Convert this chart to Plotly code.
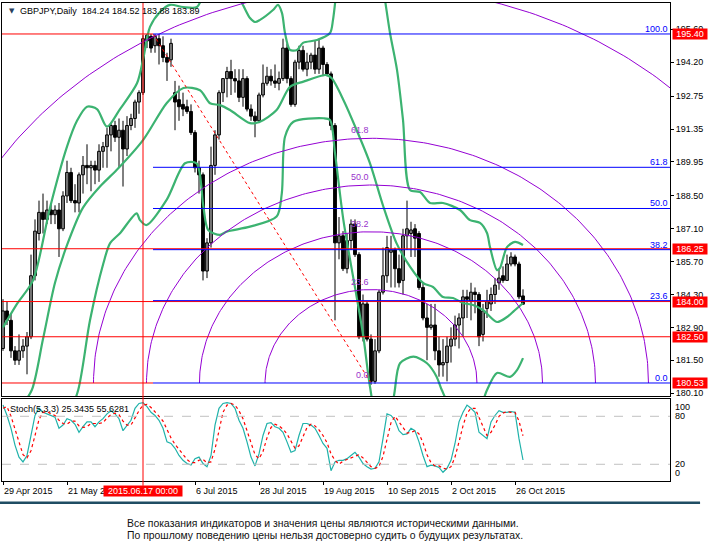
import numpy as np
import pandas as pd
import plotly.graph_objects as go
from plotly.subplots import make_subplots

# daily bars, bar 0 = 29 Apr 2015
bar_dates = pd.bdate_range("2015-04-29", periods=131)
bar_open = [182.0, 183.6, 183.2, 181.9, 181.5, 181.9, 182.1, 182.5, 185.1, 186.9,
            187.8, 187.5, 187.9, 187.7, 187.9, 187.1, 188.5, 189.5, 188.3, 188.2,
            189.4, 189.8, 189.7, 189.8, 189.6, 190.4, 190.6, 191.1, 191.5, 191.0,
            191.3, 190.5, 191.5, 191.8, 192.5, 192.9, 195.1, 195.3, 194.9, 195.2,
            194.9, 194.4, 194.3, 192.9, 192.6, 192.4, 192.3, 192.1, 191.2, 189.7,
            189.4, 185.3, 186.5, 189.8, 191.1, 192.9, 193.5, 193.8, 193.5, 193.4,
            192.7, 193.5, 192.2, 191.9, 191.7, 192.8, 193.3, 193.6, 193.4, 193.3,
            193.5, 194.8, 193.5, 192.4, 194.2, 194.7, 193.9, 194.2, 194.5, 193.9,
            194.8, 194.1, 193.7, 191.5, 186.5, 186.8, 185.4, 186.6, 187.3, 186.0,
            182.5, 183.9, 182.4, 180.6, 181.9, 184.4, 185.1, 186.1, 186.2, 185.4,
            184.9, 186.8, 186.9, 187.1, 186.9, 184.6, 183.3, 182.9, 183.0, 181.9,
            181.3, 181.4, 182.1, 182.4, 183.0, 183.3, 184.2, 184.0, 184.4, 184.3,
            182.6, 183.7, 183.9, 184.3, 184.8, 185.1, 184.9, 185.6, 185.9, 185.6,
            184.24]
bar_high = [184.1, 184.0, 183.5, 182.1, 182.6, 182.4, 182.7, 186.0, 187.5, 188.3,
            188.6, 188.3, 188.2, 188.1, 188.2, 188.7, 190.0, 189.7, 189.0, 189.5,
            190.2, 190.7, 190.0, 190.0, 190.7, 190.8, 191.4, 191.6, 191.7, 191.8,
            191.7, 191.9, 192.0, 192.6, 193.0, 195.35, 195.4, 195.4, 195.4, 195.4,
            195.3, 194.6, 195.2, 193.4, 193.2, 192.9, 192.6, 192.4, 191.3, 190.0,
            189.5, 186.7, 190.6, 191.3, 193.0, 193.5, 194.0, 194.3, 193.9, 193.9,
            193.9, 193.6, 192.4, 192.1, 192.9, 194.1, 194.0, 193.9, 194.1, 193.8,
            195.2, 195.0, 193.6, 194.3, 194.9, 194.9, 194.6, 194.6, 195.1, 195.2,
            194.9, 194.2, 193.8, 191.6, 187.6, 187.0, 186.9, 187.5, 187.5, 186.1,
            184.3, 184.0, 182.6, 182.4, 184.5, 186.3, 186.8, 186.8, 186.3, 186.0,
            187.1, 188.3, 187.4, 187.3, 187.0, 184.8, 183.9, 183.9, 183.9, 182.5,
            182.4, 182.5, 182.9, 183.4, 183.5, 184.5, 184.5, 184.8, 184.6, 184.4,
            183.9, 184.5, 184.6, 185.0, 185.4, 185.5, 186.0, 186.1, 186.0, 185.7,
            184.52]
bar_low = [181.9, 183.0, 181.6, 181.3, 181.3, 181.6, 180.9, 182.4, 184.9, 186.6,
           186.9, 187.3, 187.3, 187.3, 185.9, 187.0, 188.2, 188.2, 187.8, 187.8,
           188.6, 189.0, 188.7, 189.0, 189.1, 189.7, 189.7, 190.4, 190.8, 189.7,
           188.9, 190.2, 191.3, 191.4, 192.0, 192.8, 194.8, 194.6, 194.6, 194.1,
           194.2, 193.4, 194.0, 191.3, 191.7, 191.9, 192.0, 191.1, 189.5, 188.6,
           184.9, 185.0, 186.3, 189.4, 190.9, 192.5, 192.7, 192.8, 192.9, 192.5,
           192.3, 192.1, 191.7, 191.0, 191.6, 192.7, 193.2, 193.2, 193.1, 193.0,
           193.4, 193.3, 192.3, 192.3, 193.9, 193.8, 193.6, 193.9, 193.7, 193.7,
           193.6, 193.6, 191.3, 183.2, 185.8, 185.3, 185.2, 186.2, 185.9, 182.4,
           182.3, 182.3, 180.45, 180.5, 181.8, 184.3, 184.8, 184.6, 184.6, 184.6,
           184.3, 186.2, 185.9, 185.9, 184.5, 183.2, 181.5, 182.8, 181.5, 180.8,
           180.8, 180.6, 181.4, 182.1, 182.0, 182.5, 183.3, 183.2, 183.5, 182.1,
           182.3, 183.3, 183.6, 183.9, 184.5, 184.8, 184.9, 185.5, 185.5, 184.1,
           183.88]
bar_close = [183.6, 183.2, 181.9, 181.5, 181.9, 182.1, 182.5, 185.1, 187.0, 187.8,
             187.5, 187.9, 187.7, 187.9, 187.1, 188.5, 189.5, 188.3, 188.2, 189.4,
             189.8, 189.7, 189.8, 189.6, 190.4, 190.6, 191.1, 191.5, 191.0, 191.3,
             190.5, 191.5, 191.8, 192.5, 192.9, 195.2, 195.35, 194.8, 195.3, 194.9,
             194.4, 194.2, 195.0, 192.5, 192.3, 192.2, 192.1, 191.2, 189.7, 189.4,
             185.3, 186.5, 189.8, 191.1, 192.9, 193.5, 193.8, 193.5, 193.4, 192.7,
             193.5, 192.2, 191.9, 191.7, 192.8, 193.3, 193.6, 193.4, 193.3, 193.5,
             194.8, 193.5, 192.4, 194.2, 194.7, 193.9, 194.2, 194.5, 193.9, 194.8,
             194.1, 193.7, 191.5, 186.5, 186.8, 185.4, 186.6, 187.3, 186.0, 182.5,
             183.9, 182.4, 180.6, 181.9, 184.4, 185.1, 186.3, 186.2, 185.4, 184.8,
             186.8, 187.1, 187.05, 186.7, 184.6, 183.3, 182.9, 183.0, 181.9, 181.3,
             181.4, 182.1, 182.4, 183.0, 183.3, 184.2, 184.1, 184.4, 184.3, 182.5,
             183.6, 184.0, 184.3, 184.7, 185.0, 184.9, 185.6, 185.9, 185.6, 184.2,
             183.89]

# Bollinger bands (bar position, price)
bb_up_x = [0, 3.5, 7.5, 11.75, 16, 18.5, 21, 23.5, 26, 29.25, 33.5, 35, 36.75, 39.25,
           41.75, 45, 48.5, 50.5, 53, 56, 59.25, 61.75, 63, 64.25, 67.5, 68.75, 69.75,
           70.5, 71.75, 73.5, 75, 78.5, 81.75, 82.5, 83.5, 86, 90, 94, 95.5, 96.75,
           98.5, 100, 101.75, 104.25, 106.75, 110, 114.25, 116.75, 119.25, 121,
           121.75, 123.5, 124.25, 126, 128, 130]
bb_up = [182.9, 183.9, 184.9, 188.0, 190.6, 191.7, 192.3, 192.2, 191.45, 192.2, 193.3,
         194.3, 195.7, 196.34, 196.64, 196.55, 196.55, 197.2, 197.5, 197.4, 196.85,
         196.08, 195.91, 196.0, 196.42, 196.64, 196.29, 195.44, 194.72, 194.72, 195.02,
         195.14, 195.44, 196.0, 197.3, 199.0, 199.8, 198.5, 196.85, 195.44, 193.87,
         191.74, 188.75, 188.67, 188.2, 188.2, 187.9, 187.47, 187.35, 186.92, 186.32,
         185.34, 185.43, 186.32, 186.54, 186.41]
bb_mid_x = [0, 4, 7.2, 10, 13, 16, 20, 24.25, 28.4, 35.1, 40.9, 45.1, 49.25, 51.75,
            54.25, 56.75, 61.75, 64.25, 68.4, 71.75, 75.1, 80.9, 82.2, 85.1, 88.4,
            91.75, 95.1, 98.4, 101.75, 105.1, 107.5, 110, 112.5, 115, 117.5, 120,
            123.5, 126, 127.5, 130]
bb_mid = [178.6, 179.4, 180.23, 182.4, 184.8, 186.4, 188.0, 188.9, 189.6, 190.9,
          192.45, 193.1, 193.0, 192.45, 192.37, 192.16, 191.6, 191.66, 192.16, 193.15,
          193.37, 193.65, 193.51, 192.59, 191.31, 189.89, 188.04, 186.48, 185.49,
          184.78, 184.62, 184.19, 184.15, 183.94, 183.85, 183.64, 183.13, 183.34,
          183.56, 183.94]
bb_low_x = [10, 15, 18.8, 21.75, 25.1, 26.75, 29.25, 33.4, 34.25, 35.9, 40.9, 45.5,
            48.4, 50.1, 51.3, 54.25, 55.9, 61.75, 68.4, 69.7, 70.5, 72.6, 80.1, 81.75,
            83, 85.1, 88.4, 90.1, 91.75, 94, 96, 97.75, 99.25, 102.6, 106, 108.4,
            109.7, 112, 116, 119, 121, 123.5, 126.75, 128.5, 130]
bb_low = [176.5, 178.5, 180.23, 183.2, 185.63, 186.48, 186.91, 187.76, 187.47, 187.26,
          188.33, 189.89, 189.89, 188.04, 187.05, 186.84, 186.98, 187.19, 187.62,
          188.61, 191.02, 191.66, 191.81, 191.74, 190.32, 187.47, 184.21, 182.5,
          180.37, 178.6, 178.8, 180.0, 181.37, 181.65, 181.37, 180.8, 180.23, 179.5,
          179.2, 179.4, 180.23, 180.96, 180.79, 181.08, 181.59]

# Stochastic(5,3,3)
stoch_main = [94, 81, 65, 44, 29, 23, 31, 56, 81, 90, 85, 83, 81, 79, 65, 69, 77, 75,
              70, 60, 67, 73, 73, 67, 73, 77, 83, 87, 83, 77, 62, 69, 75, 90, 96, 97,
              92, 85, 81, 75, 65, 48, 46, 40, 31, 25, 21, 19, 27, 29, 21, 17, 31, 69,
              90, 96, 97, 96, 90, 75, 65, 48, 29, 18, 33, 56, 71, 72, 67, 65, 60, 48,
              35, 37, 56, 71, 71, 69, 65, 56, 46, 40, 12, 23, 25, 25, 27, 31, 35, 29,
              21, 17, 14, 15, 23, 52, 83, 81, 75, 62, 57, 58, 65, 62, 48, 31, 17, 19,
              18, 16, 10, 15, 25, 46, 73, 85, 94, 90, 85, 60, 56, 52, 73, 81, 87, 85,
              85, 86, 85, 52, 25.3435]
stoch_signal = [90, 92, 80, 63, 46, 32, 28, 37, 56, 76, 85, 86, 83, 81, 75, 71, 70, 74,
                74, 68, 66, 67, 71, 71, 71, 72, 78, 82, 84, 82, 74, 69, 69, 78, 87, 94,
                95, 91, 86, 80, 74, 63, 53, 45, 39, 32, 26, 22, 22, 25, 26, 22, 23, 39,
                63, 85, 94, 96, 94, 87, 77, 63, 47, 32, 27, 36, 53, 66, 70, 68, 64, 58,
                48, 40, 43, 55, 66, 70, 68, 63, 56, 47, 33, 25, 20, 24, 26, 28, 31, 32,
                28, 22, 17, 15, 17, 30, 53, 72, 80, 73, 65, 59, 60, 62, 58, 47, 32, 22,
                18, 18, 15, 14, 17, 29, 48, 68, 84, 90, 90, 78, 67, 56, 60, 69, 80, 84,
                86, 85, 85, 74, 55.6281]

# Fibonacci object: high anchor and low anchor
fib_high_bar, fib_high = 37.5, 195.40
fib_low_bar, fib_low = 92, 180.53
fib_levels = [0.0, 0.236, 0.382, 0.5, 0.618, 1.0]
fib_names = ["0.0", "23.6", "38.2", "50.0", "61.8", "100.0"]
arc_scale_bars = 112.25
arc_scale_price = 16.87

red_levels = [195.40, 186.25, 184.00, 182.50, 180.53]
price_ticks = [195.60, 194.20, 192.75, 191.35, 189.95, 188.50, 187.10, 185.70,
               184.30, 182.90, 181.50, 180.10]
date_ticks = ["2015-04-29", "2015-05-21", "2015-07-06", "2015-07-28",
              "2015-08-19", "2015-09-10", "2015-10-02", "2015-10-26"]
cross_date = "2015-06-17"

bar_x = list(range(len(bar_dates)))
pos = {d.strftime("%Y-%m-%d"): i for i, d in enumerate(bar_dates)}
cross_bar = pos[cross_date]
fib_prices = [fib_low + lv * (fib_high - fib_low) for lv in fib_levels]

FONT = "Liberation Sans"
GREEN = "#3CB371"
PURPLE = "#9400D3"

fig = make_subplots(rows=2, cols=1, shared_xaxes=True, vertical_spacing=0.01)

# candles: wicks first, then bodies on top
wick_x, wick_y = [], []
for i, lo, hi in zip(bar_x, bar_low, bar_high):
    wick_x += [i, i, None]
    wick_y += [lo, hi, None]
fig.add_trace(go.Scatter(x=wick_x, y=wick_y, mode="lines", line=dict(color="black", width=1),
                         hoverinfo="skip", showlegend=False), row=1, col=1)
body_base = [min(o, c) for o, c in zip(bar_open, bar_close)]
body_h = [max(abs(c - o), 0.02) for o, c in zip(bar_open, bar_close)]
body_col = ["white" if c >= o else "black" for o, c in zip(bar_open, bar_close)]
fig.add_trace(go.Bar(x=bar_x, y=body_h, base=body_base, width=0.7,
                     marker=dict(color=body_col, line=dict(color="black", width=1)),
                     hoverinfo="skip", showlegend=False), row=1, col=1)

for xs, ys in [(bb_up_x, bb_up), (bb_mid_x, bb_mid), (bb_low_x, bb_low)]:
    fig.add_trace(go.Scatter(x=xs, y=ys, mode="lines",
                             line=dict(color=GREEN, width=2.2, shape="spline", smoothing=0.8),
                             hoverinfo="skip", showlegend=False), row=1, col=1)

# fibo arcs
t = np.linspace(0, np.pi, 240)
for lv in fib_levels[1:]:
    fig.add_trace(go.Scatter(x=fib_low_bar + lv * arc_scale_bars * np.cos(t),
                             y=fib_low + lv * arc_scale_price * np.sin(t),
                             mode="lines", line=dict(color=PURPLE, width=1),
                             hoverinfo="skip", showlegend=False), row=1, col=1)

fig.add_trace(go.Scatter(x=[fib_high_bar, fib_low_bar], y=[fib_high, fib_low], mode="lines",
                         line=dict(color="red", width=1, dash="dot"),
                         hoverinfo="skip", showlegend=False), row=1, col=1)

fig.add_trace(go.Scatter(x=bar_x, y=stoch_main, mode="lines",
                         line=dict(color="#20B2AA", width=1.2), showlegend=False), row=2, col=1)
fig.add_trace(go.Scatter(x=bar_x, y=stoch_signal, mode="lines",
                         line=dict(color="red", width=1.2, dash="dot"), showlegend=False), row=2, col=1)

x_range = [-0.25, 166.75]
shapes = []
for lvl in [80, 20]:
    shapes.append(dict(type="line", xref="paper", yref="y2", x0=0, x1=1, y0=lvl, y1=lvl,
                       line=dict(color="#C0C0C0", width=1, dash="dash")))
for p in red_levels:
    # where a red level sits on a fib line, the blue line hides it
    end = fib_high_bar if any(abs(p - f) < 0.01 for f in fib_prices) else x_range[1]
    shapes.append(dict(type="line", xref="x", yref="y", x0=x_range[0], x1=end, y0=p, y1=p,
                       line=dict(color="red", width=1)))
for p in fib_prices:
    shapes.append(dict(type="line", xref="x", yref="y", x0=fib_high_bar, x1=x_range[1],
                       y0=p, y1=p, line=dict(color="blue", width=1)))
shapes.append(dict(type="line", xref="x", yref="paper", x0=cross_bar, x1=cross_bar,
                   y0=-0.01, y1=1, line=dict(color="red", width=1)))
shapes.append(dict(type="line", xref="paper", yref="paper", x0=-0.01, x1=1.045,
                   y0=-0.0454, y1=-0.0454, line=dict(color="#1F4D63", width=2.5)))

ann = []
small = dict(family=FONT, size=9, color="black")
for lv, name, p in zip(fib_levels, fib_names, fib_prices):
    ann.append(dict(xref="paper", yref="y", x=1, y=p, text=name, showarrow=False,
                    xanchor="right", yanchor="bottom", yshift=-2,
                    font=dict(family=FONT, size=9, color="blue")))
    top = fib_low + lv * arc_scale_price
    if top < 196.5:
        ann.append(dict(xref="x", yref="y", x=fib_low_bar, y=top, text=name, showarrow=False,
                        xanchor="right", yanchor="bottom", yshift=1,
                        font=dict(family=FONT, size=9, color="#9932CC")))
for p in red_levels:
    ann.append(dict(xref="paper", yref="y", x=1, xshift=2, y=p, text=f"{p:.2f}",
                    showarrow=False, xanchor="left", yanchor="middle", bgcolor="red",
                    width=34, height=10, borderpad=0,
                    font=dict(family=FONT, size=9, color="white")))
for v, anc in [(100, "top"), (80, "middle"), (20, "middle"), (0, "bottom")]:
    ann.append(dict(xref="paper", yref="y2", x=1, xshift=3, y=v, text=str(v), showarrow=False,
                    xanchor="left", yanchor=anc, font=small))
for d in date_ticks:
    dt = pd.Timestamp(d)
    ann.append(dict(xref="x2", yref="paper", x=pos[d], xshift=-1, y=-0.0199,
                    text=f"{dt.day} {dt.strftime('%b %Y')}", showarrow=False,
                    xanchor="left", yanchor="middle", font=small))
ann.append(dict(xref="x2", yref="paper", x=cross_bar, y=-0.0199,
                text=pd.Timestamp(cross_date).strftime("%Y.%m.%d 00:00"), showarrow=False,
                xanchor="center", yanchor="middle", bgcolor="red", width=78, height=10,
                borderpad=0, font=dict(family=FONT, size=9, color="white")))
ann.append(dict(xref="paper", yref="paper", x=0.0075, y=0.984, text="▼", showarrow=False,
                xanchor="left", yanchor="middle", font=dict(family="DejaVu Sans", size=7)))
ann.append(dict(xref="paper", yref="paper", x=0.024, y=0.984, showarrow=False,
                text=f"GBPJPY,Daily  {bar_open[-1]:.2f} {bar_high[-1]:.2f} {bar_low[-1]:.2f} {bar_close[-1]:.2f}",
                xanchor="left", yanchor="middle", font=small))
ann.append(dict(xref="paper", yref="paper", x=0.009, y=0.1506, showarrow=False,
                text=f"Stoch(5,3,3) {stoch_main[-1]:.4f} {stoch_signal[-1]:.4f}",
                xanchor="left", yanchor="middle", font=small))
ann.append(dict(xref="paper", yref="paper", x=0.184, y=-0.0879, showarrow=False,
                text="Все показания индикаторов и значения цены являются историческими данными.",
                xanchor="left", yanchor="middle", font=dict(family=FONT, size=10.4, color="#111")))
ann.append(dict(xref="paper", yref="paper", x=0.184, y=-0.113, showarrow=False,
                text="По прошлому поведению цены нельзя достоверно судить о будущих результатах.",
                xanchor="left", yanchor="middle", font=dict(family=FONT, size=10.4, color="#111")))

axis_line = dict(showline=True, mirror=True, linecolor="black", linewidth=1,
                 showgrid=False, zeroline=False)
fig.update_layout(
    width=710, height=552, margin=dict(l=2, r=40, t=3, b=71),
    paper_bgcolor="white", plot_bgcolor="white", showlegend=False, barmode="overlay",
    xaxis=dict(range=x_range, showticklabels=False, ticks="", **axis_line),
    xaxis2=dict(range=x_range, showticklabels=False, ticks="outside", ticklen=3,
                tickcolor="black", tickvals=[pos[d] for d in date_ticks], **axis_line),
    yaxis=dict(domain=[0.1768, 1], range=[179.955, 196.72], side="right",
               tickvals=price_ticks, ticktext=[f"{v:.2f}" for v in price_ticks],
               ticks="outside", ticklen=3, tickcolor="black", tickfont=small, **axis_line),
    yaxis2=dict(domain=[0, 0.1722], range=[-0.9, 102], side="right", showticklabels=False,
                ticks="", **axis_line),
    shapes=shapes, annotations=ann,
)

# page body has a default margin; drop it so the chart sits at the window corner
fig.write_html("out.html", config={"displayModeBar": False},
               post_script="document.body.style.margin='0';")
